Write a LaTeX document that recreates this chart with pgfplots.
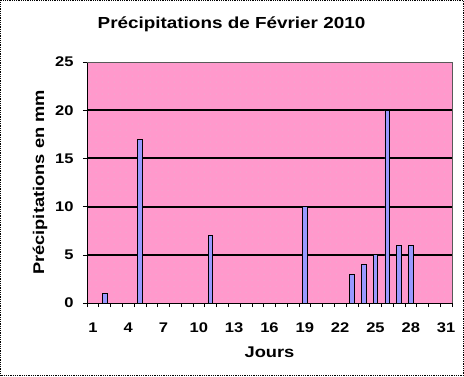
\documentclass[border=0pt]{standalone}
\usepackage{fontspec}
\setmainfont[FakeStretch=1.18]{Liberation Sans}
\usepackage{pgfplots}
\pgfplotsset{compat=1.18}
\usetikzlibrary{patterns}
\pgfdeclarepatternformonly{sparsedots}{\pgfqpoint{-1pt}{-1pt}}{\pgfqpoint{1pt}{1pt}}{\pgfqpoint{6pt}{6pt}}{\pgfpathcircle{\pgfqpoint{0pt}{0pt}}{0.5pt}\pgfusepath{fill}}
\definecolor{plotpink}{RGB}{255,153,204}
\definecolor{dotpink}{RGB}{225,185,210}
\definecolor{barblue}{RGB}{153,153,255}
\begin{document}
\begin{tikzpicture}
\useasboundingbox (0pt,0pt) rectangle (464pt,376pt);
\draw[densely dotted, line width=0.8pt] (0.4pt,0.4pt) rectangle (463.6pt,375.6pt);
\begin{axis}[
  at={(87pt,73pt)}, anchor=south west,
  width=365pt, height=241pt, scale only axis,
  xmin=0.5, xmax=31.5, ymin=0, ymax=25,
  axis x line*=bottom, axis y line*=left,
  axis line style={black, line width=0.8pt},
  axis background/.style={fill=plotpink, postaction={pattern=sparsedots, pattern color=dotpink}},
  tick align=outside, major tick length=4pt,
  tick style={black, line width=0.6pt},
  xtick={0.5,1.5,...,31.5}, xticklabels={},
  extra x ticks={1,4,7,10,13,16,19,22,25,28,31},
  extra x tick labels={1,4,7,10,13,16,19,22,25,28,31},
  extra x tick style={major tick length=0pt, xticklabel style={yshift=-16pt}},
  ytick={5,10,15,20}, ymajorgrids,
  extra y ticks={0,25}, extra y tick style={grid=none},
  major grid style={black, line width=2pt},
  ticklabel style={font=\bfseries\fontsize{14}{14}\selectfont},
  /pgf/number format/assume math mode=true,
  yticklabel style={xshift=-6pt},
  xlabel={Jours}, ylabel={Précipitations en mm},
  label style={font=\bfseries\fontsize{15.5}{15.5}\selectfont},
  xlabel style={at={(axis description cs:0.5,0)}, anchor=center, yshift=-49pt},
  ylabel style={at={(axis description cs:0,0.5)}, anchor=center, yshift=47pt},
  title={Précipitations de Février 2010},
  title style={font=\bfseries\fontsize{16}{16}\selectfont, at={(axis description cs:0.5,1)}, anchor=center, yshift=32pt, xshift=-38pt},
  after end axis/.code={\draw[gray!70!black, line width=1pt] (rel axis cs:0,1) -- (rel axis cs:1,1) -- (rel axis cs:1,0);},
  clip=false,
]
\addplot[ybar, bar width=4.5pt, fill=barblue, draw=black, line width=0.8pt] coordinates {
  (2,1) (5,17) (11,7) (19,10) (23,3) (24,4) (25,5) (26,20) (27,6) (28,6)
};
\end{axis}
\end{tikzpicture}
\end{document}
